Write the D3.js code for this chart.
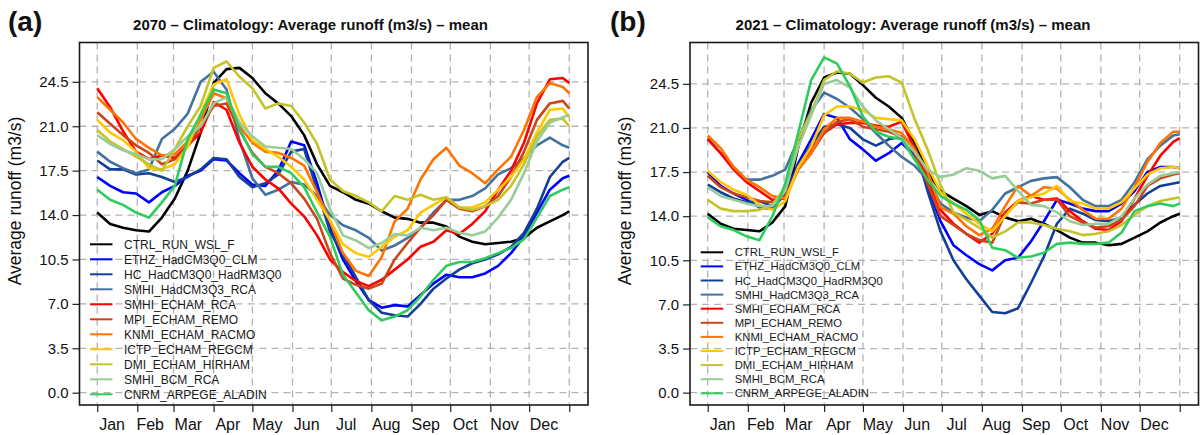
<!DOCTYPE html>
<html>
<head>
<meta charset="utf-8">
<script src="https://cdn.jsdelivr.net/npm/d3@7"></script>
<style>
  html, body { margin: 0; padding: 0; background: #ffffff; }
  svg { display: block; font-family: "Liberation Sans", Arial, Helvetica, sans-serif; }
</style>
</head>
<body>
<svg id="chart" width="1204" height="435"></svg>
<script>
// Day of year at which each runoff value is sampled
const days = [0,10,20,30,40,50,60,70,80,90,100,110,120,130,140,150,160,170,180,190,
              200,210,220,230,240,250,260,270,280,290,300,310,320,330,340,350,360,365];

const runNames = ["CTRL_RUN_WSL_F","ETHZ_HadCM3Q0_CLM","HC_HadCM3Q0_HadRM3Q0","SMHI_HadCM3Q3_RCA",
  "SMHI_ECHAM_RCA","MPI_ECHAM_REMO","KNMI_ECHAM_RACMO","ICTP_ECHAM_REGCM","DMI_ECHAM_HIRHAM",
  "SMHI_BCM_RCA","CNRM_ARPEGE_ALADIN"];
const runColors = ["#000000","#0000ff","#123f9a","#44729f","#ff0000","#cc4418","#ff7400",
  "#ffc800","#c4c42a","#98cc98","#2ecc5c"];

const monthNames = ["Jan","Feb","Mar","Apr","May","Jun","Jul","Aug","Sep","Oct","Nov","Dec"];
const monthStarts = [0,31,59,90,120,151,181,212,243,273,304,334,365];
const yTickValues = [0,3.5,7,10.5,14,17.5,21,24.5];

// 2070 climatology, mean daily runoff (m3/s)
const ctrl70    = [14.2,13.3,13.0,12.8,12.7,13.8,15.3,17.5,20.5,24.4, 25.5,25.6,24.8,23.6,22.8,21.8,20.3,18.0,16.3,15.8, 15.2,14.9,14.3,13.8,13.7,13.4,13.4,13.1,12.3,11.9, 11.7,11.8,11.9,12.2,13.0,13.5,14.0,14.3];
const ethz70    = [17.0,16.3,15.8,15.7,15.0,15.8,16.3,17.1,17.5,18.4, 18.3,17.3,16.4,16.3,17.5,19.8,19.5,16.5,13.0,10.5, 8.8,7.3,6.7,6.9,6.8,7.7,8.6,9.3,9.1,9.1, 9.4,10.0,11.0,12.3,14.2,16.0,16.9,17.1];
const hc70      = [18.3,17.6,17.6,17.2,17.3,17.0,16.6,17.0,17.6,18.5, 18.4,17.0,16.2,16.5,17.2,19.0,19.2,16.0,12.7,10.9, 9.1,7.3,6.3,6.1,6.0,7.0,8.2,9.0,9.7,10.2, 10.5,10.9,11.5,12.6,14.5,17.0,18.2,18.5];
const smhiHad70 = [19.0,18.2,17.7,17.3,17.6,20.0,20.8,22.0,24.5,25.3, 23.9,19.9,16.9,15.6,16.0,16.6,16.4,15.5,14.0,13.2, 12.8,12.2,11.2,11.6,12.2,13.0,14.2,15.2,15.2,15.5, 16.1,17.2,17.7,18.5,19.5,20.1,19.5,19.3];
const smhiEch70 = [24.0,22.5,20.6,19.0,18.4,18.7,18.5,19.5,20.5,22.9, 22.3,19.7,17.8,16.8,16.1,14.9,13.9,12.4,10.5,9.5, 8.8,8.4,8.9,9.7,10.5,11.5,11.9,12.8,12.5,13.3, 14.3,16.0,17.5,19.7,22.8,24.7,24.8,24.4];
const mpi70     = [22.1,21.2,20.3,19.5,18.9,18.0,18.4,19.4,21.0,22.6, 22.8,20.7,18.9,17.8,17.3,16.5,15.3,13.7,11.0,9.0, 8.5,8.2,8.6,10.5,11.8,13.0,14.0,15.2,14.5,14.3, 14.7,15.5,17.0,19.0,21.5,22.8,23.0,22.4];
const knmi70    = [23.3,22.3,21.3,20.0,19.3,18.7,18.8,19.8,21.5,23.6, 23.2,21.0,19.7,19.0,18.9,18.5,17.9,15.8,13.5,11.0, 9.6,9.2,10.7,13.5,14.5,16.8,18.4,19.3,17.9,17.3, 16.5,17.6,18.6,20.7,23.3,24.4,24.1,23.6];
const ictp70    = [21.5,20.5,19.9,19.0,17.7,17.6,18.0,19.4,22.0,24.3, 24.7,21.9,19.9,19.2,18.6,17.8,16.8,15.2,13.6,11.7, 11.0,10.7,11.5,12.3,12.8,14.2,14.8,15.4,14.6,14.6, 15.0,16.0,17.0,18.4,20.5,22.3,22.4,21.7];
const dmi70     = [20.7,19.8,19.2,18.6,18.0,17.5,19.2,21.0,22.6,25.6, 26.1,24.9,24.0,22.4,22.8,22.6,21.3,19.6,16.8,15.9, 15.5,15.0,14.3,15.5,15.2,15.6,15.2,15.4,14.6,14.4, 14.7,15.2,16.3,18.0,20.2,21.5,21.6,21.0];
const bcm70     = [20.3,19.6,19.1,18.8,18.4,18.4,19.2,20.2,21.0,22.8, 23.3,21.3,20.2,19.4,19.3,19.2,18.4,17.3,14.5,12.4, 12.0,11.4,11.8,12.5,12.4,13.0,12.8,13.0,12.6,12.4, 12.7,13.8,15.2,17.3,19.8,21.3,21.7,21.9];
const cnrm70    = [16.0,15.2,14.8,14.2,13.8,15.0,16.3,20.0,21.9,23.9, 23.6,20.8,18.8,17.8,17.8,17.3,16.2,14.2,12.3,9.3, 7.9,6.5,5.7,6.0,6.5,7.6,8.9,10.0,10.3,10.3, 10.6,11.0,11.4,12.1,13.8,15.5,16.0,16.2];

// 2021 climatology, mean daily runoff (m3/s)
const ctrl21    = [14.2,13.4,13.0,12.9,12.8,13.5,14.8,19.5,23.0,25.0, 25.4,25.3,24.4,23.4,22.7,21.8,19.8,17.5,16.0,15.4, 14.8,14.1,14.4,13.9,13.6,13.8,13.4,12.9,12.3,11.9, 11.9,11.7,11.8,12.3,12.8,13.5,14.0,14.2];
const ethz21    = [17.5,16.4,15.8,15.3,14.7,14.6,15.8,18.2,20.1,22.1, 21.8,20.1,19.3,18.4,19.0,19.8,18.8,16.4,13.6,11.7, 10.9,10.2,9.7,10.5,10.7,12.0,13.6,15.3,15.0,14.6, 14.4,14.4,15.0,16.0,17.5,17.9,17.9,17.8];
const hc21      = [16.5,15.9,15.4,15.1,15.2,14.8,15.8,18.0,19.6,21.1, 21.3,21.0,20.1,19.6,20.1,20.3,19.6,16.0,12.8,10.5, 9.0,7.7,6.4,6.3,6.7,8.7,10.8,13.4,14.6,14.2, 13.7,13.6,13.9,14.9,15.8,16.4,16.6,16.7];
const smhiHad21 = [20.2,19.0,17.9,16.9,16.9,17.2,17.7,20.1,22.4,23.8, 23.3,22.6,21.7,20.6,19.6,18.7,18.0,16.9,15.0,14.3, 13.9,13.6,14.5,15.8,16.3,16.8,17.0,17.1,16.3,15.3, 14.8,14.8,15.3,16.7,18.5,19.6,20.4,20.5];
const smhiEch21 = [20.1,19.0,17.7,16.7,16.0,15.3,15.4,17.8,19.3,20.6, 21.3,21.4,21.4,21.2,21.1,21.5,19.4,17.0,14.5,13.4, 12.6,11.9,12.6,14.3,15.2,15.6,15.3,15.4,14.4,13.6, 13.0,12.9,13.6,15.4,17.2,18.8,19.9,20.2];
const mpi21     = [17.2,16.3,15.8,15.5,15.2,15.1,15.6,17.7,19.0,20.6, 21.5,21.7,21.1,20.9,20.7,20.3,19.0,16.6,14.0,13.3, 12.6,12.1,11.9,14.2,15.1,15.0,15.3,15.3,14.0,13.5, 13.1,13.2,13.7,14.8,16.4,17.0,17.3,17.4];
const knmi21    = [20.4,19.4,17.9,16.9,16.3,15.6,15.4,17.7,19.0,20.9, 21.8,21.8,21.5,21.1,20.9,20.6,19.3,17.5,14.7,14.2, 13.2,12.5,13.0,14.8,16.4,15.6,16.3,16.2,15.3,14.5, 13.8,13.8,14.6,16.3,18.3,19.8,20.7,20.7];
const ictp21    = [17.6,16.7,16.1,15.7,14.9,14.5,15.2,17.9,19.5,22.0, 22.7,22.7,22.4,21.8,21.7,21.6,20.1,18.0,15.9,15.0, 14.2,13.4,12.8,14.0,15.2,15.5,15.8,16.4,15.2,15.0, 14.6,14.6,15.1,16.2,17.3,17.8,17.9,17.8];
const dmi21     = [15.3,14.6,14.4,14.4,14.5,14.9,16.3,20.1,22.2,24.8, 25.5,25.3,24.6,25.0,25.1,24.6,21.7,19.3,16.5,14.3, 13.7,13.1,12.3,12.8,13.5,13.5,13.3,13.0,12.8,12.5, 12.6,12.8,13.3,14.1,14.8,15.2,15.4,15.5];
const bcm21     = [16.3,15.6,15.3,15.0,14.8,14.8,16.0,19.5,22.0,24.5, 24.8,24.2,22.7,21.6,20.9,20.2,19.1,17.7,17.1,17.3, 17.8,17.6,17.0,17.2,16.0,14.9,14.8,14.3,13.6,13.3, 13.4,13.4,14.0,15.4,16.5,17.2,17.4,17.5];
const cnrm21    = [13.9,13.2,12.9,12.4,12.1,14.0,16.6,20.6,24.8,26.6, 26.1,24.3,21.9,20.7,20.3,20.1,18.5,16.9,15.6,15.0, 14.5,13.7,11.5,11.3,10.7,10.8,11.1,11.8,11.9,11.8, 11.8,11.9,12.7,14.4,14.8,15.0,14.8,15.0];

const runs2070 = [ctrl70, ethz70, hc70, smhiHad70, smhiEch70, mpi70, knmi70, ictp70, dmi70, bcm70, cnrm70];
const runs2021 = [ctrl21, ethz21, hc21, smhiHad21, smhiEch21, mpi21, knmi21, ictp21, dmi21, bcm21, cnrm21];

const svg = d3.select("#chart");

function drawPanel(cfg) {
  const g = svg.append("g");
  const x = d3.scaleLinear().domain([-13.7, 379.5]).range([cfg.left, cfg.left + 508.5]);
  const y = d3.scaleLinear().domain(cfg.yDomain).range([405, 42.5]);

  // dashed grid
  const grid = g.append("g").attr("stroke", "#b3b3b3").attr("stroke-width", 1.3)
    .attr("stroke-dasharray", "7,5").attr("fill", "none");
  grid.selectAll("line.h").data(yTickValues).join("line").attr("class", "h")
    .attr("x1", x.range()[0]).attr("x2", x.range()[1])
    .attr("y1", d => y(d)).attr("y2", d => y(d));
  grid.selectAll("line.v").data(monthStarts).join("line").attr("class", "v")
    .attr("x1", d => x(d)).attr("x2", d => x(d))
    .attr("y1", 42.5).attr("y2", 405);

  // runoff lines
  const line = d3.line().x((d, i) => x(days[i])).y(d => y(d)).curve(d3.curveLinear);
  g.append("g").selectAll("path").data(cfg.runs).join("path")
    .attr("d", d => line(d))
    .attr("fill", "none")
    .attr("stroke", (d, i) => runColors[i])
    .attr("stroke-width", 2.6)
    .attr("stroke-linejoin", "round");

  // y axis
  const yAxis = d3.axisLeft(y).tickValues(yTickValues).tickSize(7).tickPadding(4)
    .tickFormat(d3.format(".1f"));
  const ya = g.append("g").attr("transform", `translate(${cfg.left},0)`).call(yAxis);
  ya.select(".domain").remove();
  ya.selectAll("line").attr("stroke", "#222").attr("stroke-width", 1.2);
  ya.selectAll("text").attr("font-size", 15).attr("fill", "#111")
    .attr("font-family", "Liberation Sans, Arial, sans-serif");

  // x axis: ticks on month boundaries, labels inside each month
  const xAxis = d3.axisBottom(x).tickValues(monthStarts).tickSize(7).tickFormat("");
  const xa = g.append("g").attr("transform", "translate(0,405)").call(xAxis);
  xa.select(".domain").remove();
  xa.selectAll("line").attr("stroke", "#222").attr("stroke-width", 1.2);
  g.append("g").selectAll("text").data(monthNames).join("text")
    .attr("x", (d, i) => x(monthStarts[i] + (monthStarts[i + 1] - monthStarts[i]) / 2 - 4))
    .attr("y", 429.5)
    .attr("text-anchor", "middle")
    .attr("font-size", 16).attr("fill", "#111")
    .text(d => d);

  // frame
  g.append("rect").attr("x", cfg.left).attr("y", 42.5)
    .attr("width", 508.5).attr("height", 362.5)
    .attr("fill", "none").attr("stroke", "#1a1a1a").attr("stroke-width", 1.6);

  // axis title
  g.append("text")
    .attr("transform", `translate(${cfg.left - 59},201) rotate(-90)`)
    .attr("text-anchor", "middle").attr("font-size", 17.5).attr("fill", "#111")
    .text("Average runoff (m3/s)");

  // panel title and tag
  g.append("text").attr("x", cfg.titleX).attr("y", 30).attr("text-anchor", "middle")
    .attr("font-size", 15).attr("font-weight", "bold").attr("fill", "#111")
    .text(cfg.title);
  g.append("text").attr("x", cfg.tagX).attr("y", 31)
    .attr("font-size", 28).attr("font-weight", "bold").attr("fill", "#111")
    .text(cfg.tag);

  // legend
  const lg = g.append("g");
  const rows = lg.selectAll("g").data(runNames).join("g")
    .attr("transform", (d, i) => `translate(0,${cfg.legY + i * cfg.legStep})`);
  rows.append("line").attr("x1", cfg.legX).attr("x2", cfg.legX + 22.5)
    .attr("y1", 0).attr("y2", 0)
    .attr("stroke", (d, i) => runColors[i]).attr("stroke-width", 2);
  rows.append("text").attr("x", cfg.legX + 34).attr("y", 0).attr("dy", "0.36em")
    .attr("font-size", cfg.legFont).attr("fill", "#1a1a1a")
    .text(d => d);
}

drawPanel({
  left: 79.5, yDomain: [-0.97, 27.6], runs: runs2070,
  title: "2070 \u2013 Climatology: Average runoff (m3/s) \u2013 mean", titleX: 310.5,
  tag: "(a)", tagX: 8,
  legX: 90, legY: 244.3, legStep: 15.0, legFont: 12
});
drawPanel({
  left: 690, yDomain: [-0.98, 27.78], runs: runs2021,
  title: "2021 \u2013 Climatology: Average runoff (m3/s) \u2013 mean", titleX: 913,
  tag: "(b)", tagX: 610,
  legX: 700.7, legY: 252.3, legStep: 14.1, legFont: 11.3
});
</script>
</body>
</html>
